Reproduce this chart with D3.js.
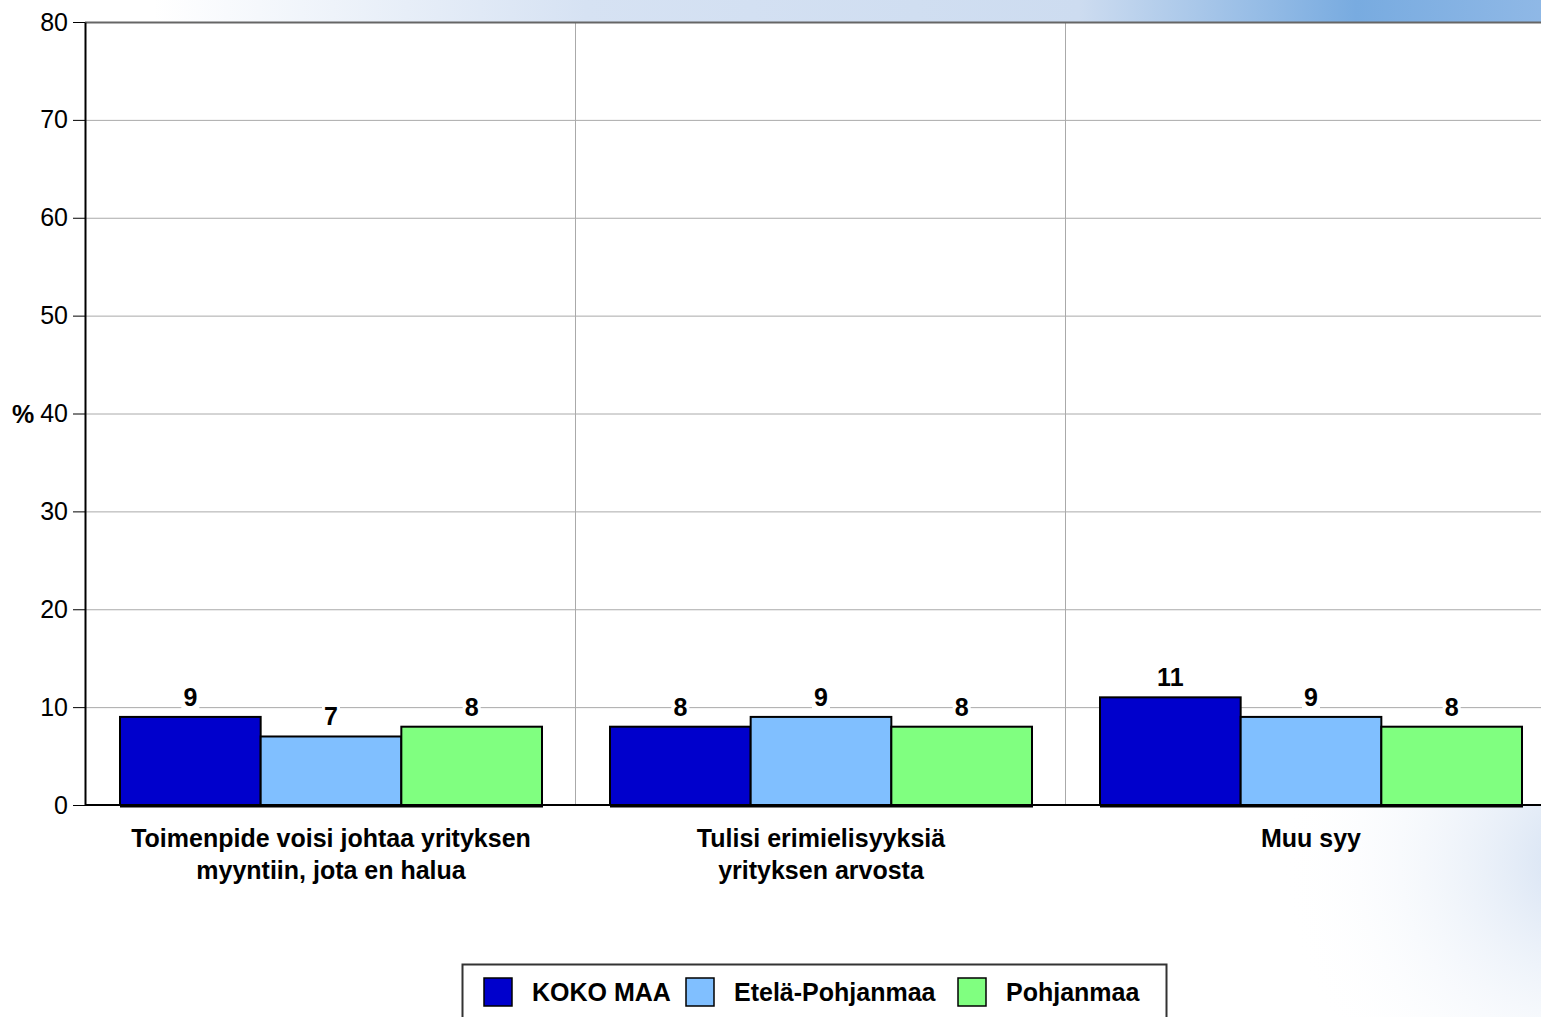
<!DOCTYPE html>
<html lang="fi">
<meta charset="UTF-8">
<style>
    body{margin:0;background:#fff;}
    text{font-family:"Liberation Sans",Arial,sans-serif;}
    .tick text{font-size:25px;fill:#000;}
    .grid line{stroke:#aaa;stroke-width:1;}
</style>
<body>
<div id="chart"></div>
<script src="https://cdn.jsdelivr.net/npm/d3@7"></script>
<script>
    var categories = [["Toimenpide voisi johtaa yrityksen","myyntiin, jota en halua"],
                      ["Tulisi erimielisyyksiä","yrityksen arvosta"],
                      ["Muu syy"]];
    var seriesNames = ["KOKO MAA","Etelä-Pohjanmaa","Pohjanmaa"];
    var seriesColors = ["#0000cc","#80bfff","#80ff80"];
    var kokoMaa = [9, 8, 11];
    var etelaPohjanmaa = [7, 9, 9];
    var pohjanmaa = [8, 8, 8];
    var yTicks = [0,10,20,30,40,50,60,70,80];

    var width = 1541, height = 1017;
    var margin = {top:22, left:85};
    var plotRight = 1555;

    var svg = d3.select("#chart").append("svg")
        .attr("width", width)
        .attr("height", height);

    var defs = svg.append("defs");
    var topGrad = defs.append("linearGradient").attr("id","topGrad");
    topGrad.append("stop").attr("offset","0%").attr("stop-color","#ffffff");
    topGrad.append("stop").attr("offset","10%").attr("stop-color","#ffffff");
    topGrad.append("stop").attr("offset","38%").attr("stop-color","#d6e2f3");
    topGrad.append("stop").attr("offset","70%").attr("stop-color","#cddcf0");
    topGrad.append("stop").attr("offset","88%").attr("stop-color","#78abe0");
    topGrad.append("stop").attr("offset","100%").attr("stop-color","#8fb8e6");
    var blob = defs.append("radialGradient").attr("id","blob")
        .attr("gradientUnits","userSpaceOnUse")
        .attr("cx",1580).attr("cy",860).attr("r",300);
    blob.append("stop").attr("offset","0%").attr("stop-color","#d3e0f2");
    blob.append("stop").attr("offset","100%").attr("stop-color","#ffffff").attr("stop-opacity",0);

    svg.append("rect").attr("width",width).attr("height",height).attr("fill","#fff");
    svg.append("rect").attr("x",1000).attr("y",806).attr("width",541).attr("height",211).attr("fill","url(#blob)");
    svg.append("rect").attr("x",0).attr("y",0).attr("width",width).attr("height",margin.top).attr("fill","url(#topGrad)");

    var y = d3.scaleLinear().domain([0,80]).range([805, margin.top]);
    var x0 = d3.scaleBand().domain(d3.range(categories.length)).range([margin.left, plotRight]);
    var x1 = d3.scaleBand().domain(d3.range(seriesNames.length)).range([35, x0.bandwidth()-33]);

    // plot background
    svg.append("rect").attr("x",margin.left).attr("y",margin.top)
        .attr("width",plotRight-margin.left).attr("height",y(0)-margin.top).attr("fill","#fff");

    // horizontal grid
    svg.append("g").attr("class","grid")
        .selectAll("line").data(yTicks.slice(1)).enter().append("line")
        .attr("x1",margin.left).attr("x2",plotRight)
        .attr("y1",function(d){return y(d)+0.5;}).attr("y2",function(d){return y(d)+0.5;});
    // vertical category separators
    svg.append("g").attr("class","grid")
        .selectAll("line").data(d3.range(1,categories.length)).enter().append("line")
        .attr("x1",function(d){return x0(d)+0.5;}).attr("x2",function(d){return x0(d)+0.5;})
        .attr("y1",margin.top).attr("y2",y(0));
    svg.append("line").attr("x1",margin.left).attr("x2",plotRight)
        .attr("y1",margin.top+0.5).attr("y2",margin.top+0.5)
        .attr("stroke","#666").attr("stroke-width",2);

    // y axis
    var yAxis = svg.append("g").attr("class","y axis")
        .attr("transform","translate("+margin.left+",0)")
        .call(d3.axisLeft(y).tickValues(yTicks).tickSize(12).tickPadding(5).tickSizeOuter(0));
    yAxis.select(".domain").attr("stroke","#000").attr("stroke-width",2);
    yAxis.selectAll(".tick line").attr("stroke","#000");

    svg.append("text").attr("x",12).attr("y",y(40)+9)
        .attr("font-size","25px").attr("font-weight","bold").text("%");

    // bars
    var rows = categories.map(function(c,i){return [kokoMaa[i], etelaPohjanmaa[i], pohjanmaa[i]];});
    var groups = svg.append("g").selectAll("g.cat").data(rows).enter().append("g")
        .attr("class","cat")
        .attr("transform",function(d,i){return "translate("+x0(i)+",0)";});

    groups.selectAll("rect").data(function(d){return d;}).enter().append("rect")
        .attr("x",function(d,j){return x1(j);})
        .attr("y",function(d){return y(d);})
        .attr("width",x1.bandwidth())
        .attr("height",function(d){return y(0)-y(d);})
        .attr("fill",function(d,j){return seriesColors[j];})
        .attr("stroke","#000").attr("stroke-width",2);

    // value labels
    var labels = groups.selectAll("g.lbl").data(function(d){return d;}).enter().append("g")
        .attr("class","lbl")
        .attr("transform",function(d,j){return "translate("+(x1(j)+x1.bandwidth()/2)+","+(y(d)-11)+")";});
    labels.append("rect").attr("x",function(d){return d>=10?-16:-9;}).attr("y",-20)
        .attr("width",function(d){return d>=10?32:18;}).attr("height",24).attr("fill","#fff");
    labels.append("text").attr("text-anchor","middle")
        .attr("font-size","25px").attr("font-weight","bold")
        .text(function(d){return d;});

    // baseline
    svg.append("line").attr("x1",margin.left).attr("x2",width)
        .attr("y1",y(0)).attr("y2",y(0)).attr("stroke","#000").attr("stroke-width",2);
    groups.append("line").attr("x1",x1(0)).attr("x2",x1(2)+x1.bandwidth()+1)
        .attr("y1",y(0)+1).attr("y2",y(0)+1).attr("stroke","#000").attr("stroke-width",3);

    // category labels
    var catText = svg.append("g").selectAll("text").data(categories).enter().append("text")
        .attr("text-anchor","middle")
        .attr("font-size","25px").attr("font-weight","bold")
        .attr("x",function(d,i){return x0(i)+x1(0)+(x1(2)+x1.bandwidth()-x1(0))/2;})
        .attr("y",847);
    catText.selectAll("tspan").data(function(d){return d;}).enter().append("tspan")
        .attr("x",function(){return d3.select(this.parentNode).attr("x");})
        .attr("dy",function(d,i){return i?32:0;})
        .text(function(d){return d;});

    // legend
    var legend = svg.append("g").attr("transform","translate(462,964)");
    legend.append("rect").attr("x",0.5).attr("y",0.5).attr("width",704).attr("height",70)
        .attr("fill","#fff").attr("stroke","#333").attr("stroke-width",2);
    var legX = [22, 224, 496];
    var item = legend.selectAll("g.item").data(seriesNames).enter().append("g")
        .attr("class","item")
        .attr("transform",function(d,i){return "translate("+legX[i]+",14)";});
    item.append("rect").attr("width",28).attr("height",28)
        .attr("fill",function(d,i){return seriesColors[i];})
        .attr("stroke","#000").attr("stroke-width",1.5);
    item.append("text").attr("x",48).attr("y",23)
        .attr("font-size","25px").attr("font-weight","bold")
        .text(function(d){return d;});
</script>
</body>
</html>
